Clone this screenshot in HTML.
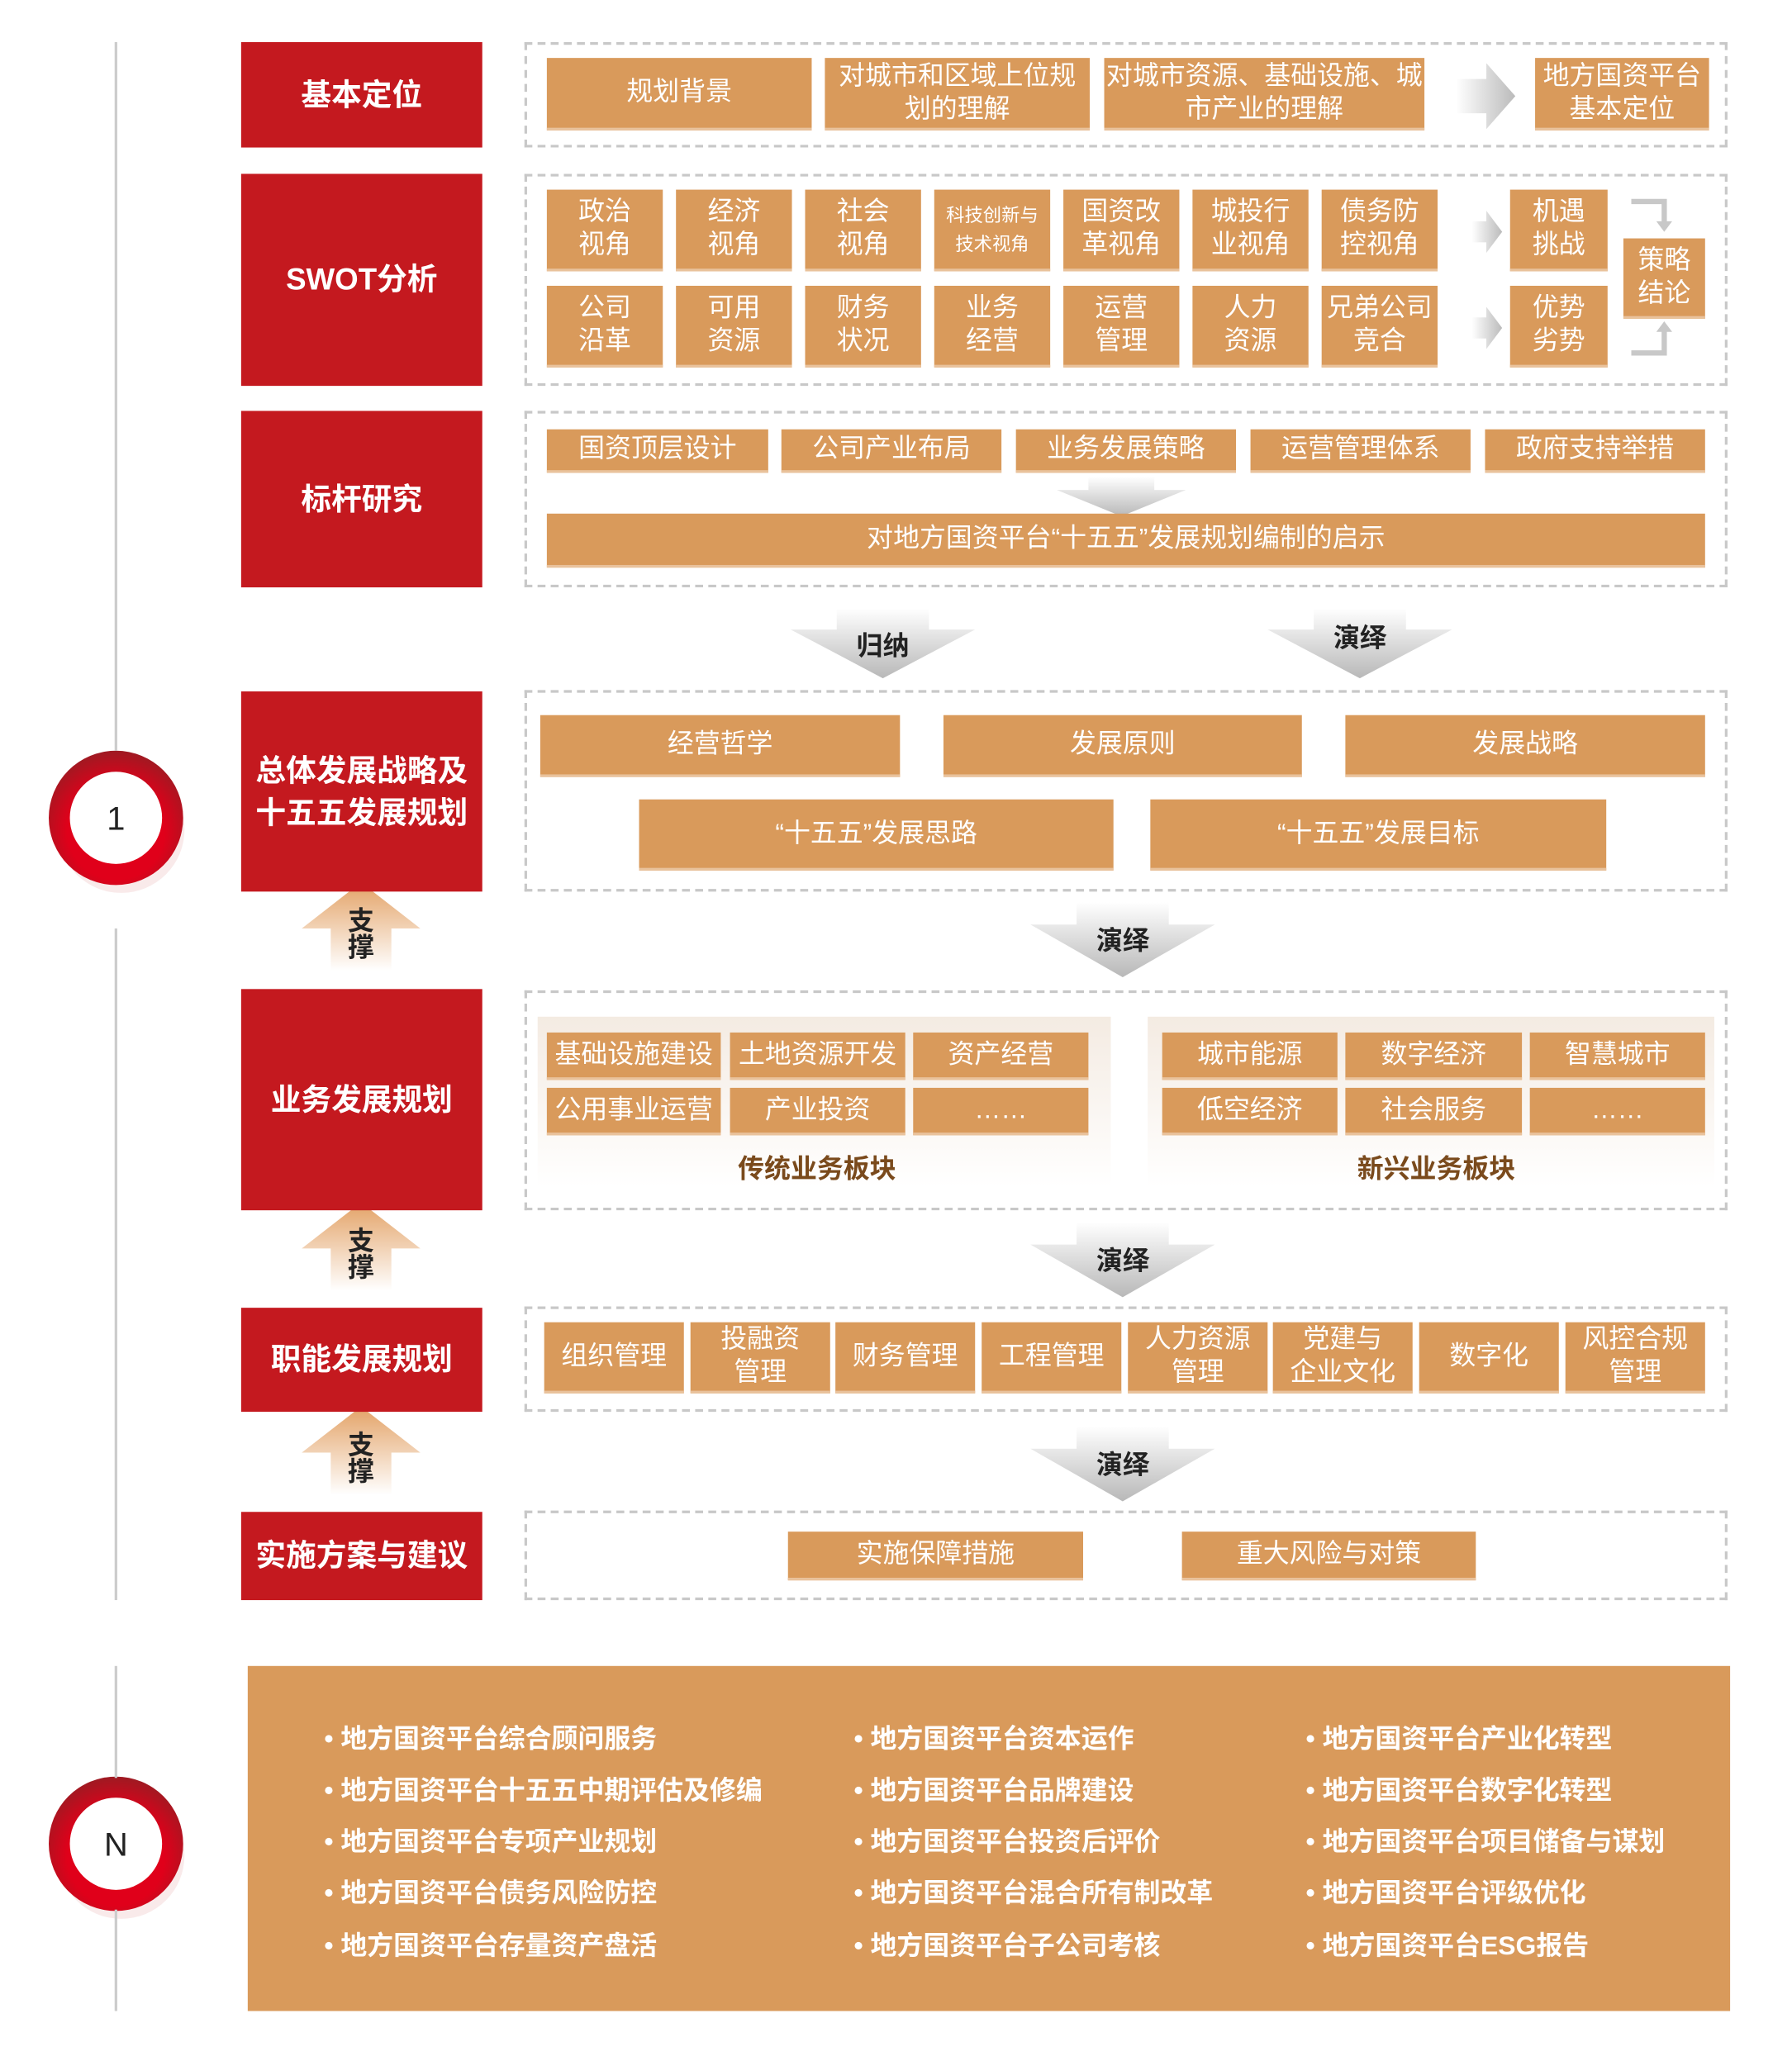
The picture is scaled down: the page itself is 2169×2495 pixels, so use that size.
<!DOCTYPE html>
<html><head><meta charset="utf-8"><style>
html,body{margin:0;padding:0;background:#fff;}
body{width:2169px;height:2495px;overflow:hidden;position:relative;font-family:"Liberation Sans","Noto Sans CJK SC",sans-serif;}
#w{position:absolute;left:0;top:0;width:1360px;height:1565px;transform:scale(1.5949,1.5943);transform-origin:0 0;}
#w div{position:absolute;box-sizing:border-box;}
.b{background:#d99a5b;color:#fff;display:flex;align-items:center;justify-content:center;text-align:center;line-height:1.25;font-size:20px;border-bottom:2px solid #e9c29c;}
.r{background:#c4191f;color:#fff;display:flex;align-items:center;justify-content:center;text-align:center;font-size:23px;font-weight:bold;line-height:1.4;left:183px;width:183px;}
.d{border:2px dashed #c8c8c8;left:398px;width:913px;}
.vl{background:#ccc;width:2px;left:87px;}
.lbl{font-size:20px;font-weight:bold;color:#222;display:flex;justify-content:center;}
.li{color:#fff;font-size:20px;font-weight:bold;white-space:nowrap;}
.pan{background:linear-gradient(to bottom,#f4ebe2,#fff);}
.pl{font-size:20px;color:#7a4a1c;font-weight:bold;text-align:center;}
</style></head><body><div id="w">
<svg width="1360" height="1565" style="position:absolute;left:0;top:0">
<defs>
<linearGradient id="g" x1="0" y1="0" x2="0" y2="1"><stop offset="0" stop-color="#fff"/><stop offset="1" stop-color="#b8b8b8"/></linearGradient>
<linearGradient id="gh" x1="0" y1="0" x2="1" y2="0"><stop offset="0" stop-color="#fff"/><stop offset="1" stop-color="#bbb"/></linearGradient>
<linearGradient id="o" x1="0" y1="0" x2="0" y2="1"><stop offset="0" stop-color="#e3a266"/><stop offset="1" stop-color="#fff"/></linearGradient>
<radialGradient id="rc" cx="0.5" cy="0.6" r="0.6"><stop offset="0.6" stop-color="#e0001a"/><stop offset="1" stop-color="#9e1a22"/></radialGradient>
</defs>
<!-- down arrows -->
<g fill="url(#g)">
<polygon points="635,462 705,462 705,478 740,478 670,515 600,478 635,478"/>
<polygon points="997,462 1067,462 1067,478 1102,478 1032,515 962,478 997,478"/>
<polygon points="817,685 887,685 887,702 922,702 852,742 782,702 817,702"/>
<polygon points="817,928 887,928 887,945 922,945 852,985 782,945 817,945"/>
<polygon points="817,1083 887,1083 887,1100 922,1100 852,1140 782,1100 817,1100"/>
<polygon points="826,362 876,362 876,372 900,372 851,392 802,372 826,372"/>
</g>
<!-- right arrows -->
<g fill="url(#gh)">
<polygon points="1105,60 1128,60 1128,48 1150,73 1128,98 1128,86 1105,86"/>
<polygon points="1117,168 1128,168 1128,160 1140,176 1128,192 1128,184 1117,184"/>
<polygon points="1117,241 1128,241 1128,233 1140,249 1128,265 1128,257 1117,257"/>
</g>
<g fill="none" stroke="#c8c8c8" stroke-width="4">
<path d="M1238,153 H1263 V170"/><path d="M1238,268 H1263 V250"/>
</g>
<polygon points="1257,168 1269,168 1263,176" fill="#c8c8c8"/>
<polygon points="1257,252 1269,252 1263,244" fill="#c8c8c8"/>
<!-- up support arrows -->
<g fill="url(#o)">
<polygon points="274,670 319,705 297,705 297,737 251,737 251,705 229,705"/>
<polygon points="274,913 319,948 297,948 297,980 251,980 251,948 229,948"/>
<polygon points="274,1068 319,1103 297,1103 297,1135 251,1135 251,1103 229,1103"/>
</g>
<!-- circles -->
<ellipse cx="92" cy="630" rx="48" ry="48" fill="#f3d6d6" opacity="0.5"/>
<circle cx="88" cy="621" r="51" fill="url(#rc)"/><circle cx="88" cy="621" r="35" fill="#fff"/>
<ellipse cx="92" cy="1409" rx="48" ry="48" fill="#f3d6d6" opacity="0.5"/>
<circle cx="88" cy="1400" r="51" fill="url(#rc)"/><circle cx="88" cy="1400" r="35" fill="#fff"/>
<text x="88" y="630" font-size="25" text-anchor="middle" font-family="Liberation Sans" fill="#222">1</text>
<text x="88" y="1409" font-size="25" text-anchor="middle" font-family="Liberation Sans" fill="#222">N</text>
</svg>
<div class="vl" style="top:32px;height:538px"></div>
<div class="vl" style="top:705px;height:510px"></div>
<div class="vl" style="top:1265px;height:85px"></div>
<div class="vl" style="top:1450px;height:77px"></div>

<div class="lbl" style="left:244px;top:690px;width:60px;line-height:1;flex-direction:column;align-items:center">支<br>撑</div>
<div class="lbl" style="left:244px;top:933px;width:60px;line-height:1;flex-direction:column;align-items:center">支<br>撑</div>
<div class="lbl" style="left:244px;top:1088px;width:60px;line-height:1;flex-direction:column;align-items:center">支<br>撑</div>
<div class="lbl" style="left:620px;top:474px;width:100px">归纳</div>
<div class="lbl" style="left:982px;top:468px;width:100px">演绎</div>
<div class="lbl" style="left:802px;top:698px;width:100px">演绎</div>
<div class="lbl" style="left:802px;top:941px;width:100px">演绎</div>
<div class="lbl" style="left:802px;top:1096px;width:100px">演绎</div>

<div class="r" style="top:32px;height:80px">基本定位</div>
<div class="r" style="top:132px;height:161px">SWOT分析</div>
<div class="r" style="top:312px;height:134px">标杆研究</div>
<div class="r" style="top:525px;height:152px">总体发展战略及<br>十五五发展规划</div>
<div class="r" style="top:751px;height:168px">业务发展规划</div>
<div class="r" style="top:993px;height:79px">职能发展规划</div>
<div class="r" style="top:1148px;height:67px">实施方案与建议</div>

<div class="d" style="top:32px;height:80px"></div>
<div class="d" style="top:132px;height:161px"></div>
<div class="d" style="top:312px;height:134px"></div>
<div class="d" style="top:524px;height:153px"></div>
<div class="d" style="top:752px;height:167px"></div>
<div class="d" style="top:992px;height:80px"></div>
<div class="d" style="top:1147px;height:68px"></div>

<div class="b" style="left:415px;top:44px;width:201px;height:55px">规划背景</div>
<div class="b" style="left:626px;top:44px;width:201px;height:55px">对城市和区域上位规<br>划的理解</div>
<div class="b" style="left:838px;top:44px;width:243px;height:55px">对城市资源、基础设施、城<br>市产业的理解</div>
<div class="b" style="left:1165px;top:44px;width:132px;height:55px">地方国资平台<br>基本定位</div>

<div class="b" style="left:415px;top:144px;width:88px;height:62px">政治<br>视角</div>
<div class="b" style="left:513px;top:144px;width:88px;height:62px">经济<br>视角</div>
<div class="b" style="left:611px;top:144px;width:88px;height:62px">社会<br>视角</div>
<div class="b" style="left:709px;top:144px;width:88px;height:62px;font-size:14px;line-height:1.6">科技创新与<br>技术视角</div>
<div class="b" style="left:807px;top:144px;width:88px;height:62px">国资改<br>革视角</div>
<div class="b" style="left:905px;top:144px;width:88px;height:62px">城投行<br>业视角</div>
<div class="b" style="left:1003px;top:144px;width:88px;height:62px">债务防<br>控视角</div>
<div class="b" style="left:415px;top:217px;width:88px;height:62px">公司<br>沿革</div>
<div class="b" style="left:513px;top:217px;width:88px;height:62px">可用<br>资源</div>
<div class="b" style="left:611px;top:217px;width:88px;height:62px">财务<br>状况</div>
<div class="b" style="left:709px;top:217px;width:88px;height:62px">业务<br>经营</div>
<div class="b" style="left:807px;top:217px;width:88px;height:62px">运营<br>管理</div>
<div class="b" style="left:905px;top:217px;width:88px;height:62px">人力<br>资源</div>
<div class="b" style="left:1003px;top:217px;width:88px;height:62px">兄弟公司<br>竞合</div>
<div class="b" style="left:1146px;top:144px;width:74px;height:62px">机遇<br>挑战</div>
<div class="b" style="left:1146px;top:217px;width:74px;height:62px">优势<br>劣势</div>
<div class="b" style="left:1232px;top:181px;width:62px;height:61px">策略<br>结论</div>

<div class="b" style="left:415px;top:326px;width:168px;height:33px">国资顶层设计</div>
<div class="b" style="left:593px;top:326px;width:167px;height:33px">公司产业布局</div>
<div class="b" style="left:771px;top:326px;width:167px;height:33px">业务发展策略</div>
<div class="b" style="left:949px;top:326px;width:167px;height:33px">运营管理体系</div>
<div class="b" style="left:1127px;top:326px;width:167px;height:33px">政府支持举措</div>
<div class="b" style="left:415px;top:390px;width:879px;height:41px">对地方国资平台“十五五”发展规划编制的启示</div>

<div class="b" style="left:410px;top:543px;width:273px;height:47px">经营哲学</div>
<div class="b" style="left:716px;top:543px;width:272px;height:47px">发展原则</div>
<div class="b" style="left:1021px;top:543px;width:273px;height:47px">发展战略</div>
<div class="b" style="left:485px;top:607px;width:360px;height:54px">“十五五”发展思路</div>
<div class="b" style="left:873px;top:607px;width:346px;height:54px">“十五五”发展目标</div>

<div class="pan" style="left:408px;top:772px;width:435px;height:129px"></div>
<div class="pan" style="left:871px;top:772px;width:430px;height:129px"></div>
<div class="b" style="left:415px;top:784px;width:132px;height:36px">基础设施建设</div>
<div class="b" style="left:554px;top:784px;width:133px;height:36px">土地资源开发</div>
<div class="b" style="left:693px;top:784px;width:133px;height:36px">资产经营</div>
<div class="b" style="left:415px;top:826px;width:132px;height:36px">公用事业运营</div>
<div class="b" style="left:554px;top:826px;width:133px;height:36px">产业投资</div>
<div class="b" style="left:693px;top:826px;width:133px;height:36px">……</div>
<div class="b" style="left:882px;top:784px;width:133px;height:36px">城市能源</div>
<div class="b" style="left:1021px;top:784px;width:134px;height:36px">数字经济</div>
<div class="b" style="left:1161px;top:784px;width:133px;height:36px">智慧城市</div>
<div class="b" style="left:882px;top:826px;width:133px;height:36px">低空经济</div>
<div class="b" style="left:1021px;top:826px;width:134px;height:36px">社会服务</div>
<div class="b" style="left:1161px;top:826px;width:133px;height:36px">……</div>
<div class="pl" style="left:520px;top:871px;width:200px">传统业务板块</div>
<div class="pl" style="left:990px;top:871px;width:200px">新兴业务板块</div>

<div class="b" style="left:413px;top:1004px;width:106px;height:54px">组织管理</div>
<div class="b" style="left:524px;top:1004px;width:106px;height:54px">投融资<br>管理</div>
<div class="b" style="left:634px;top:1004px;width:106px;height:54px">财务管理</div>
<div class="b" style="left:745px;top:1004px;width:106px;height:54px">工程管理</div>
<div class="b" style="left:856px;top:1004px;width:106px;height:54px">人力资源<br>管理</div>
<div class="b" style="left:966px;top:1004px;width:106px;height:54px">党建与<br>企业文化</div>
<div class="b" style="left:1077px;top:1004px;width:106px;height:54px">数字化</div>
<div class="b" style="left:1188px;top:1004px;width:106px;height:54px">风控合规<br>管理</div>

<div class="b" style="left:598px;top:1163px;width:224px;height:37px">实施保障措施</div>
<div class="b" style="left:897px;top:1163px;width:223px;height:37px">重大风险与对策</div>

<div style="left:188px;top:1265px;width:1125px;height:262px;background:#d99a5b"></div>
<div class="li" style="left:246px;top:1304px">• 地方国资平台综合顾问服务</div>
<div class="li" style="left:246px;top:1343px">• 地方国资平台十五五中期评估及修编</div>
<div class="li" style="left:246px;top:1382px">• 地方国资平台专项产业规划</div>
<div class="li" style="left:246px;top:1421px">• 地方国资平台债务风险防控</div>
<div class="li" style="left:246px;top:1461px">• 地方国资平台存量资产盘活</div>
<div class="li" style="left:648px;top:1304px">• 地方国资平台资本运作</div>
<div class="li" style="left:648px;top:1343px">• 地方国资平台品牌建设</div>
<div class="li" style="left:648px;top:1382px">• 地方国资平台投资后评价</div>
<div class="li" style="left:648px;top:1421px">• 地方国资平台混合所有制改革</div>
<div class="li" style="left:648px;top:1461px">• 地方国资平台子公司考核</div>
<div class="li" style="left:991px;top:1304px">• 地方国资平台产业化转型</div>
<div class="li" style="left:991px;top:1343px">• 地方国资平台数字化转型</div>
<div class="li" style="left:991px;top:1382px">• 地方国资平台项目储备与谋划</div>
<div class="li" style="left:991px;top:1421px">• 地方国资平台评级优化</div>
<div class="li" style="left:991px;top:1461px">• 地方国资平台ESG报告</div>
</div></body></html>
